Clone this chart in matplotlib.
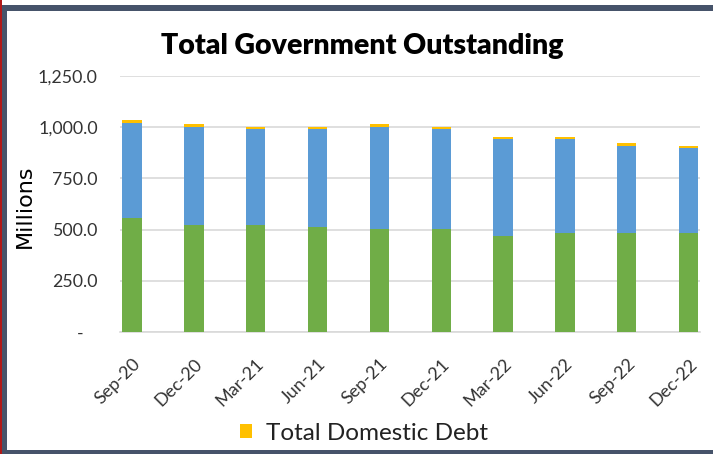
import matplotlib
matplotlib.use("Agg")
import matplotlib.pyplot as plt
from matplotlib.patches import Rectangle, Patch
from matplotlib.ticker import FixedLocator, FuncFormatter
import numpy as np

# --- données (millions) ---
quarters = ["Sep-20", "Dec-20", "Mar-21", "Jun-21", "Sep-21",
            "Dec-21", "Mar-22", "Jun-22", "Sep-22", "Dec-22"]
base_debt = [555, 522, 522, 511, 501, 501, 470, 482, 482, 482]
mid_debt = [467, 480, 468, 479, 501, 489, 471, 459, 426, 415]
domestic_debt = [13, 13, 12, 12, 12, 12, 10, 10, 13, 13]
y_ticks = [0, 250, 500, 750, 1000, 1250]

GREEN = "#70AD47"
BLUE = "#5B9BD5"
GOLD = "#FFC000"
GRID = "#D9D9D9"
FRAME = "#46536A"

W, H = 713, 454
fig = plt.figure(figsize=(W / 100, H / 100), dpi=100)
fig.patch.set_facecolor("white")

# cadre sombre autour du graphique
def px_rect(x0, y0, x1, y1, color):
    fig.patches.append(Rectangle((x0 / W, 1 - y1 / H), (x1 - x0) / W, (y1 - y0) / H,
                                 transform=fig.transFigure, color=color, lw=0, zorder=0))

px_rect(2, 5, W, 11, FRAME)
px_rect(2, 5, 7, H, FRAME)
px_rect(2, 450, W, H, FRAME)
px_rect(0, 0, 2, H, "#B01818")

ax = fig.add_axes([120 / W, 1 - 332 / H, 580 / W, (332 - 76) / H])
x = np.arange(len(quarters))
width = 0.314
bottom_mid = np.array(base_debt)
bottom_top = bottom_mid + np.array(mid_debt)
ax.bar(x, base_debt, width, color=GREEN, zorder=3)
ax.bar(x, mid_debt, width, bottom=bottom_mid, color=BLUE, zorder=3)
ax.bar(x, domestic_debt, width, bottom=bottom_top, color=GOLD, zorder=3)

ax.set_xlim(-0.194, 9.184)
ax.set_ylim(0, 1250)
ax.yaxis.set_major_locator(FixedLocator(y_ticks))
ax.yaxis.set_major_formatter(FuncFormatter(lambda v, p: "-" if v == 0 else f"{v:,.1f}"))
ax.grid(axis="y", color=GRID, lw=1.2, zorder=0)
for s in ["top", "right", "left"]:
    ax.spines[s].set_visible(False)
ax.spines["bottom"].set_color(GRID)
ax.spines["bottom"].set_linewidth(1.2)

ax.tick_params(axis="y", length=0, pad=16, labelsize=12.8, labelcolor="#333333")
ax.tick_params(axis="x", length=0, pad=17, labelsize=13, labelcolor="#333333")
ax.set_xticks(x)
ax.set_xticklabels(quarters, rotation=45, ha="right", va="top", rotation_mode="anchor")
for lab in ax.get_yticklabels() + ax.get_xticklabels():
    lab.set_family("Lato")
# le zéro s'affiche comme un tiret décalé (format comptable)
ax.yaxis.get_major_ticks()[0].label1.set_x(-0.025)

fig.text(362 / W, 1 - 46 / H, "Total Government Outstanding", ha="center", va="center",
         fontsize=20.5, fontweight="heavy", family="Lato", color="black")
fig.text(25 / W, 1 - 206 / H, "Millions", rotation=90, ha="center", va="center",
         fontsize=16, family="DejaVu Sans", color="black")

handle = Patch(facecolor=GOLD, edgecolor="none")
fig.legend([handle], ["Total Domestic Debt"], loc="center",
           bbox_to_anchor=(364 / W, 1 - 433 / H), frameon=False,
           prop={"family": "Lato", "size": 17.5}, handlelength=0.5, handleheight=0.55,
           handletextpad=0.6, labelcolor="#222222")

fig.savefig("out.png", dpi=100)
